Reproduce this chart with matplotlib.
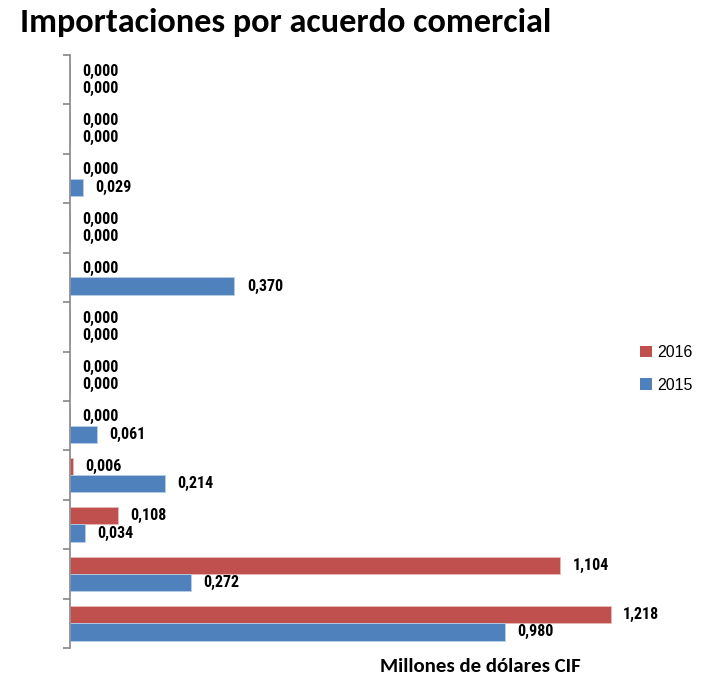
import matplotlib
matplotlib.use("Agg")
import matplotlib.pyplot as plt
from matplotlib.patches import Patch

categories = [f"Acuerdo {i}" for i in range(1, 13)]  # bottom to top, labels hidden in reference
values_2016 = [1.218, 1.104, 0.108, 0.006, 0.000, 0.000, 0.000, 0.000, 0.000, 0.000, 0.000, 0.000]
values_2015 = [0.980, 0.272, 0.034, 0.214, 0.061, 0.000, 0.000, 0.370, 0.000, 0.029, 0.000, 0.000]
series_names = ["2016", "2015"]

LABEL_FONT = ["Roboto Condensed", "Liberation Sans", "DejaVu Sans"]
TITLE_FONT = ["Carlito", "Open Sans", "DejaVu Sans"]

RED = "#C0504D"
BLUE = "#4F81BD"

fig = plt.figure(figsize=(7.03, 6.75), dpi=100)
W, H = 703, 675
ax = fig.add_axes([70 / W, 27 / H, 621.6 / W, 593 / H])

h = 0.35
y = list(range(len(categories)))
ax.barh([v + h / 2 for v in y], values_2016, height=h, color=RED, edgecolor="#E6B9B8", linewidth=0.6)
ax.barh([v - h / 2 for v in y], values_2015, height=h, color=BLUE, edgecolor="#B9CDE5", linewidth=0.6)

def fmt(v):
    return f"{v:.3f}".replace(".", ",")

for yi, v in zip(y, values_2016):
    ax.annotate(fmt(v), (v, yi + h / 2), xytext=(9, 0), textcoords="offset points",
                ha="left", va="center", fontsize=11.5, fontweight="bold", family=LABEL_FONT)
for yi, v in zip(y, values_2015):
    ax.annotate(fmt(v), (v, yi - h / 2), xytext=(9, 0), textcoords="offset points",
                ha="left", va="center", fontsize=11.5, fontweight="bold", family=LABEL_FONT)

ax.set_xlim(0, 1.4)
ax.set_ylim(-0.5, len(categories) - 0.5)
ax.set_yticks([i - 0.5 for i in range(len(categories) + 1)])
ax.set_yticklabels([])
ax.set_xticks([])
for s in ["top", "right", "bottom"]:
    ax.spines[s].set_visible(False)
ax.spines["left"].set_color("#868686")
ax.spines["left"].set_linewidth(1.2)
ax.tick_params(axis="y", length=5, width=1.2, color="#868686")

fig.text(20 / W, 1 - 32 / H, "Importaciones por acuerdo comercial", fontsize=24.7,
         fontweight="bold", family=TITLE_FONT, ha="left", va="baseline")
fig.text(480 / W, 1 - 672 / H, "Millones de dólares CIF", fontsize=15,
         fontweight="bold", family=TITLE_FONT, ha="center", va="baseline")

handles = [Patch(facecolor=RED, label=series_names[0]), Patch(facecolor=BLUE, label=series_names[1])]
fig.legend(handles=handles, loc="center left", bbox_to_anchor=(626 / W, 1 - 369 / H),
           frameon=False, prop={"family": "Liberation Sans", "size": 11.5},
           handlelength=0.75, handleheight=0.75, handletextpad=0.3, labelspacing=1.1)

fig.savefig("out.png", dpi=100)
